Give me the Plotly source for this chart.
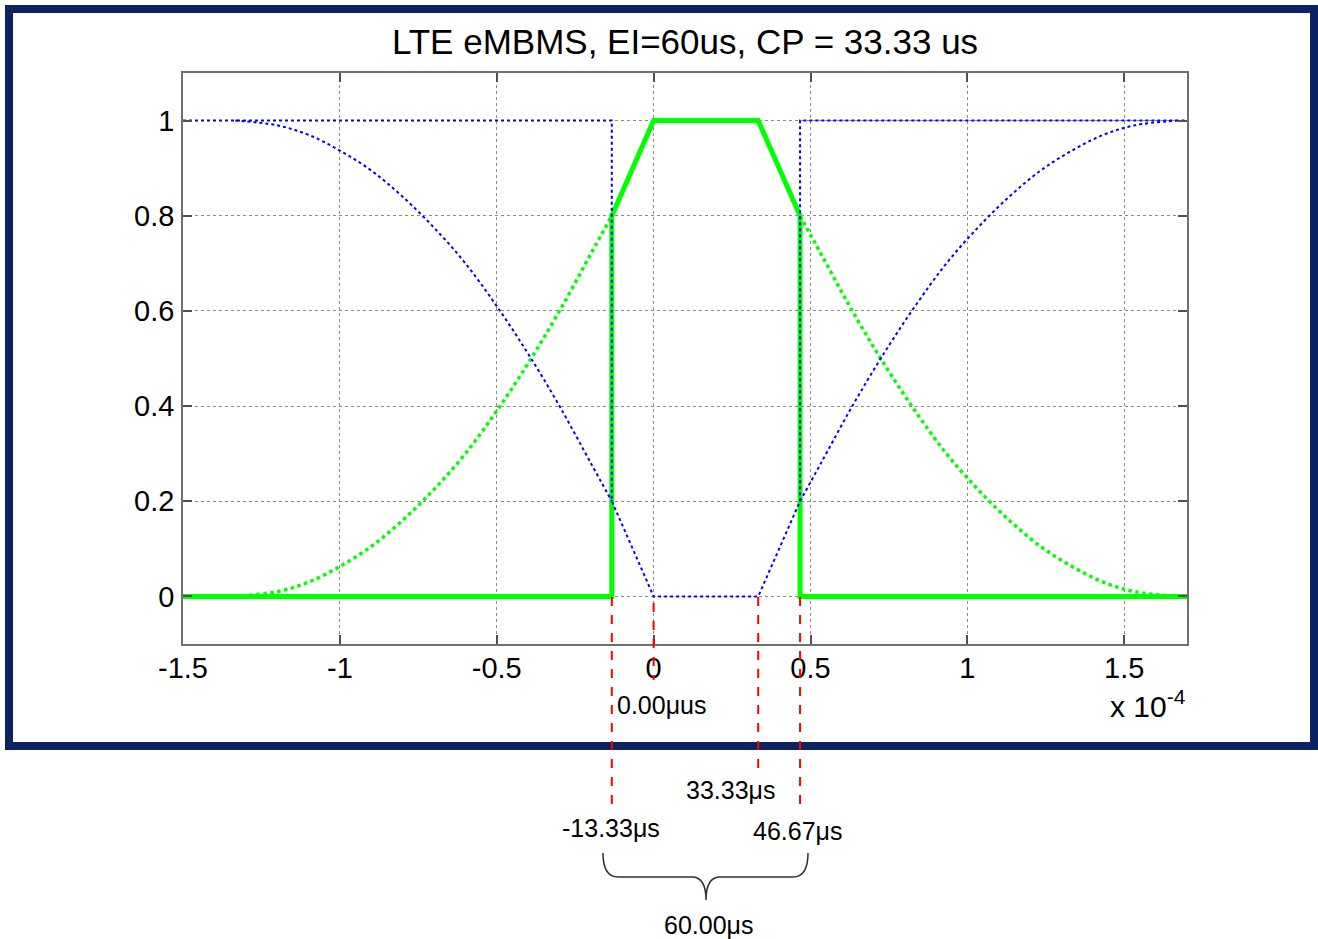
import plotly.graph_objects as go

# ---------------- data (x in microseconds) ----------------
x_ticks = [-150, -100, -50, 0, 50, 100, 150]
x_ticktext = ["-1.5", "-1", "-0.5", "0", "0.5", "1", "1.5"]
y_ticks = [0, 0.2, 0.4, 0.6, 0.8, 1.0]
y_ticktext = ["0", "0.2", "0.4", "0.6", "0.8", "1"]

# effective window (thick green)
win_x = [-150, -13.33, -13.33, 0, 33.33, 46.67, 46.67, 170]
win_y = [0, 0, 0.8, 1, 1, 0.8, 0, 0]

# complementary step window (blue dotted)
step_x = [-150, -13.33, -13.33, 0, 33.33, 46.67, 46.67, 170]
step_y = [1, 1, 0.2, 0, 0, 0.2, 1, 1]

# left transition
left_x = [-133.33, -120, -110, -100, -90, -80, -70, -60, -50, -40, -30, -20, -13.33]
left_green = [0, 0.01, 0.03, 0.063, 0.105, 0.16, 0.225, 0.30, 0.39, 0.49, 0.60, 0.72, 0.80]
left_blue = [1, 0.99, 0.97, 0.937, 0.895, 0.84, 0.775, 0.70, 0.61, 0.51, 0.40, 0.28, 0.20]

# right transition
right_x = [46.67, 53.33, 63.33, 73.33, 83.33, 93.33, 103.33, 113.33, 123.33, 133.33, 143.33, 153.33, 166.67]
right_green = [0.80, 0.72, 0.60, 0.49, 0.39, 0.30, 0.225, 0.16, 0.105, 0.063, 0.03, 0.01, 0]
right_blue = [0.20, 0.28, 0.40, 0.51, 0.61, 0.70, 0.775, 0.84, 0.895, 0.937, 0.97, 0.99, 1.0]

# marked instants (microseconds) and their labels
mark_x = [-13.33, 0, 33.33, 46.67]
mark_labels = ["-13.33\u03bcs", "0.00\u03bcus", "33.33\u03bcs", "46.67\u03bcs"]
span_label = "60.00\u03bcs"
title_text = "LTE eMBMS, EI=60us, CP = 33.33 us"

# ---------------- figure ----------------
W, H = 1318, 939
L, R, T, B = 183, 1187, 73, 644


def px(p):
    return (p - L) / (R - L)


def py(p):
    return (B - p) / (B - T)


FONT = "Liberation Sans, Arial, sans-serif"
BLUE = "#0000ff"
GREEN = "#00ff00"

fig = go.Figure()
fig.add_trace(go.Scatter(x=win_x, y=win_y, mode="lines",
                         line=dict(color=GREEN, width=5), hoverinfo="skip"))
fig.add_trace(go.Scatter(x=left_x, y=left_green, mode="lines", line_shape="spline",
                         line=dict(color=GREEN, width=3.5, dash="dot"), hoverinfo="skip"))
fig.add_trace(go.Scatter(x=right_x, y=right_green, mode="lines", line_shape="spline",
                         line=dict(color=GREEN, width=3.5, dash="dot"), hoverinfo="skip"))
fig.add_trace(go.Scatter(x=step_x, y=step_y, mode="lines",
                         line=dict(color=BLUE, width=2, dash="dot"), hoverinfo="skip"))
fig.add_trace(go.Scatter(x=left_x, y=left_blue, mode="lines", line_shape="spline",
                         line=dict(color=BLUE, width=2, dash="dot"), hoverinfo="skip"))
fig.add_trace(go.Scatter(x=right_x, y=right_blue, mode="lines", line_shape="spline",
                         line=dict(color=BLUE, width=2, dash="dot"), hoverinfo="skip"))

axis_common = dict(
    showline=True, mirror="ticks", linecolor="#707070", linewidth=1.5,
    ticks="inside", ticklen=9, tickwidth=1.5, tickcolor="#505050",
    showgrid=True, gridcolor="#8a8a8a", griddash="dot", gridwidth=1,
    zeroline=False, tickfont=dict(family=FONT, size=29, color="#000"),
)

fig.update_layout(
    width=W, height=H,
    paper_bgcolor="white", plot_bgcolor="white",
    showlegend=False,
    margin=dict(l=L, r=W - R, t=T, b=H - B, pad=0),
    title=dict(text=title_text, x=px((L + R) / 2), xref="paper", xanchor="center",
               y=1 - 42 / H, yref="container", yanchor="middle",
               font=dict(family=FONT, size=35, color="#000")),
    xaxis=dict(range=[-150, 170], tickvals=x_ticks, ticktext=x_ticktext,
               ticklabelstandoff=-3, **axis_common),
    yaxis=dict(range=[-0.1, 1.1], tickvals=y_ticks, ticktext=y_ticktext,
               ticklabelstandoff=1, **axis_common),
)

# exponent label
fig.add_annotation(text="x 10<sup>-4</sup>", xref="paper", yref="paper",
                   x=px(1188), y=py(704), xanchor="right", yanchor="middle",
                   showarrow=False, font=dict(family=FONT, size=30, color="#000"))

# outer navy frame
fig.add_shape(type="rect", xref="paper", yref="paper",
              x0=px(9), x1=px(1314), y0=py(746), y1=py(9),
              line=dict(color="#0d2262", width=8), fillcolor="rgba(0,0,0,0)")

# red dashed marker lines
mark_top = [597, 603, 597, 597]
mark_bot = [810, 680, 777, 807]
for xv, t0, b0 in zip(mark_x, mark_top, mark_bot):
    fig.add_shape(type="line", xref="x", yref="paper", x0=xv, x1=xv,
                  y0=py(t0), y1=py(b0),
                  line=dict(color="#ff0000", width=2, dash="dash"))

# marker labels
label_pos = [(611, 828), (661, 705), (730, 790), (797, 831)]
for txt, (lx, ly) in zip(mark_labels, label_pos):
    fig.add_annotation(text=txt, xref="paper", yref="paper", x=px(lx), y=py(ly),
                       xanchor="center", yanchor="middle", showarrow=False,
                       font=dict(family=FONT, size=25, color="#000"))

# brace and span label
brace = (f"M {px(603)},{py(853)} Q {px(603)},{py(877)} {px(618)},{py(877)} "
         f"L {px(692)},{py(877)} Q {px(706)},{py(877)} {px(706)},{py(900)} "
         f"Q {px(706)},{py(877)} {px(720)},{py(877)} "
         f"L {px(793)},{py(877)} Q {px(808)},{py(877)} {px(808)},{py(853)}")
fig.add_shape(type="path", xref="paper", yref="paper", path=brace,
              line=dict(color="#303030", width=1.5))
fig.add_annotation(text=span_label, xref="paper", yref="paper", x=px(708), y=py(925),
                   xanchor="center", yanchor="middle", showarrow=False,
                   font=dict(family=FONT, size=25, color="#000"))

fig.write_html("out.html", config={"displayModeBar": False},
               post_script="document.body.style.margin='0px';")
